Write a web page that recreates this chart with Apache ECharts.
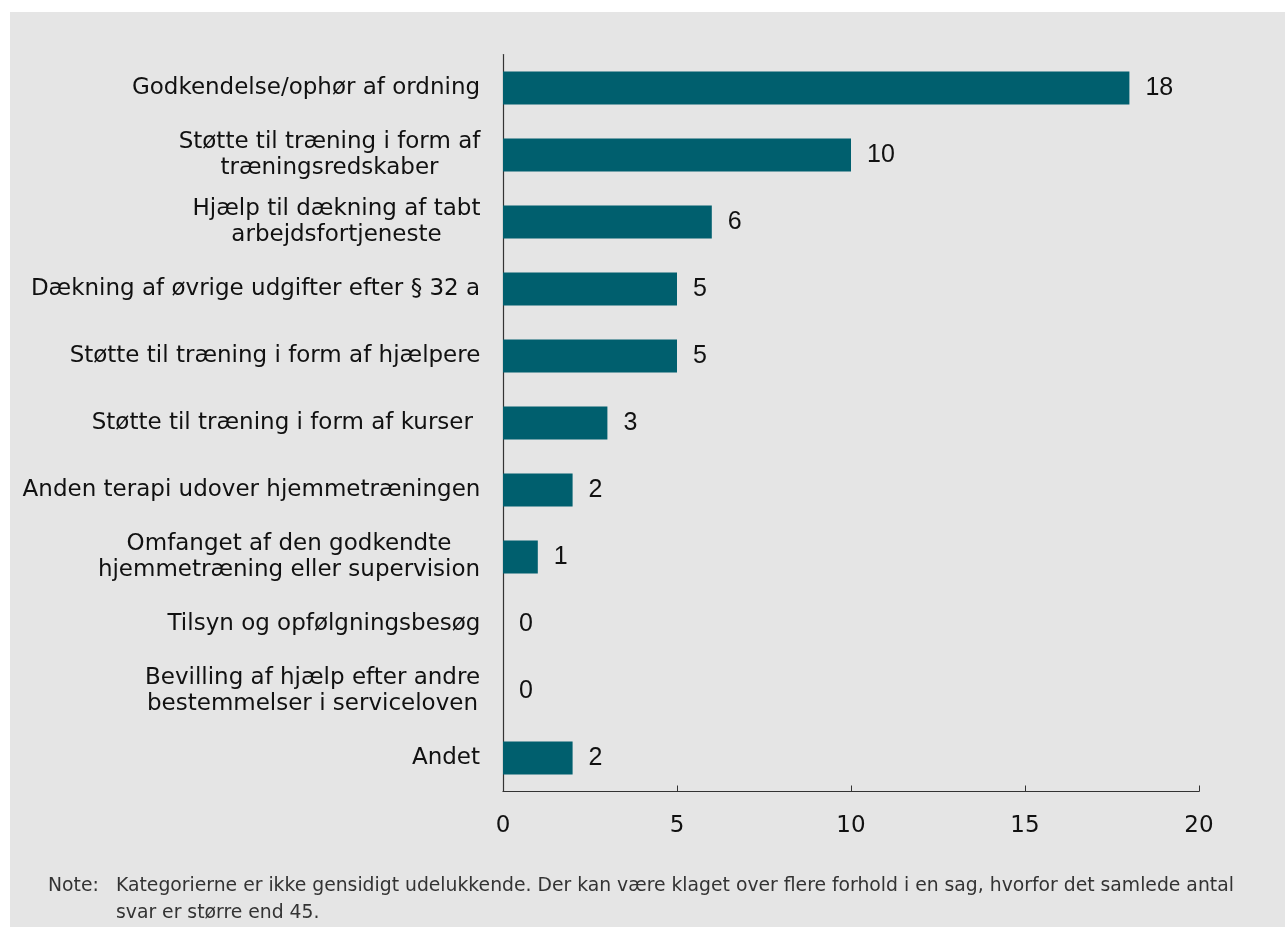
<!DOCTYPE html>
<html>
<head>
<meta charset="utf-8">
<script src="https://cdn.jsdelivr.net/npm/echarts@6/dist/echarts.min.js"></script>
<style>
html,body{margin:0;padding:0;background:#ffffff;}
#chart{width:1285px;height:927px;}
</style>
</head>
<body>
<div id="chart"></div>
<script>
const categories = [
  "Godkendelse/ophør af ordning",
  "Støtte til træning i form af\ntræningsredskaber",
  "Hjælp til dækning af tabt\narbejdsfortjeneste",
  "Dækning af øvrige udgifter efter § 32 a",
  "Støtte til træning i form af hjælpere",
  "Støtte til træning i form af kurser ",
  "Anden terapi udover hjemmetræningen",
  "Omfanget af den godkendte\nhjemmetræning eller supervision",
  "Tilsyn og opfølgningsbesøg",
  "Bevilling af hjælp efter andre\nbestemmelser i serviceloven",
  "Andet"
];
const values = [18, 10, 6, 5, 5, 3, 2, 1, 0, 0, 2];
const xTicks = [0, 5, 10, 15, 20];
const noteLabel = "Note:";
const noteText = "Kategorierne er ikke gensidigt udelukkende. Der kan være klaget over flere forhold i en sag, hvorfor det samlede antal\nsvar er større end 45.";

const labelFont = '23px "DejaVu Sans"';
const ctx = document.createElement('canvas').getContext('2d');
ctx.font = labelFont;
const rich = {};
const labelKey = {};
categories.forEach((c, i) => {
  const lines = c.split('\n');
  const w = Math.max(...lines.map(l => ctx.measureText(l).width));
  const key = 'l' + i;
  labelKey[c] = key;
  rich[key] = {width: Math.ceil(w) + 1, align: 'center', fontFamily: 'DejaVu Sans', fontSize: 23, color: '#111111', lineHeight: 26};
});

const chart = echarts.init(document.getElementById('chart'), null, {renderer: 'canvas'});
const option = {
  backgroundColor: '#ffffff',
  animation: false,
  graphic: [
    {type: 'rect', z: -10, silent: true, shape: {x: 10, y: 12, width: 1275, height: 915}, style: {fill: '#e5e5e5'}},
    {type: 'text', left: 48, top: 873, style: {text: noteLabel, font: '18.8px "DejaVu Sans"', fill: '#333333', lineHeight: 27}},
    {type: 'text', left: 116, top: 873, style: {text: noteText, font: '18.8px "DejaVu Sans"', fill: '#333333', lineHeight: 27}}
  ],
  grid: {left: 503, right: 86, top: 54.5, bottom: 135.5, containLabel: false},
  xAxis: {
    type: 'value',
    min: xTicks[0],
    max: xTicks[xTicks.length - 1],
    interval: 5,
    axisLine: {show: true, lineStyle: {color: '#333333', width: 1.2}},
    axisTick: {show: true, inside: true, length: 6, lineStyle: {color: '#333333'}},
    splitLine: {show: false},
    axisLabel: {margin: 23, fontFamily: 'DejaVu Sans', fontSize: 23, color: '#111111'}
  },
  yAxis: {
    type: 'category',
    data: categories,
    inverse: true,
    axisLine: {show: true, lineStyle: {color: '#333333', width: 1.2}},
    axisTick: {show: false},
    axisLabel: {
      margin: 22, fontFamily: 'DejaVu Sans', fontSize: 23, color: '#111111', lineHeight: 26, align: 'right',
      formatter: function (v) {
        const k = labelKey[v];
        return v.split('\n').map(l => '{' + k + '|' + l + '}').join('\n');
      },
      rich: rich
    }
  },
  series: [{
    type: 'bar',
    data: values,
    barWidth: 33,
    itemStyle: {color: '#005f6e'},
    label: {
      show: true,
      position: 'right',
      distance: 16,
      fontFamily: 'Liberation Sans, Arial',
      fontSize: 25,
      color: '#111111'
    }
  }]
};
chart.setOption(option);
</script>
</body>
</html>
